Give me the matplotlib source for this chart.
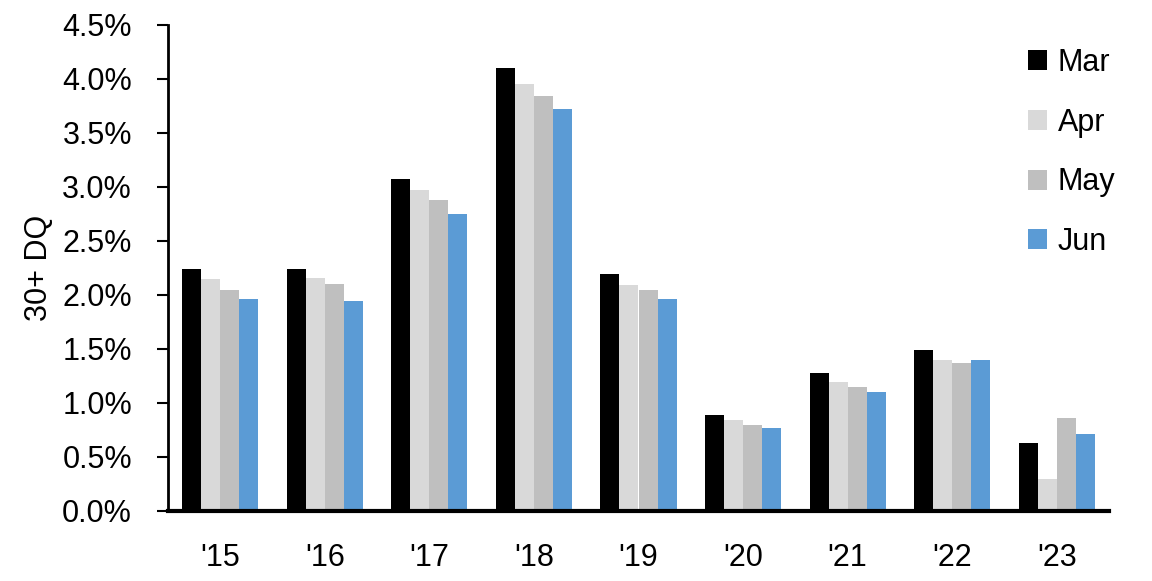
import numpy as np
import matplotlib.pyplot as plt

plt.rcParams['font.family'] = ['Liberation Sans', 'DejaVu Sans']

# vintage years and monthly 30+ DQ rates (%)
years = ["'15", "'16", "'17", "'18", "'19", "'20", "'21", "'22", "'23"]
months = ['Mar', 'Apr', 'May', 'Jun']
mar = [2.24, 2.24, 3.07, 4.10, 2.19, 0.89, 1.28, 1.49, 0.63]
apr = [2.15, 2.155, 2.975, 3.95, 2.095, 0.84, 1.19, 1.40, 0.30]
may = [2.05, 2.10, 2.88, 3.84, 2.05, 0.80, 1.15, 1.37, 0.86]
jun = [1.96, 1.94, 2.75, 3.72, 1.96, 0.77, 1.10, 1.395, 0.71]
colors = ['#000000', '#D9D9D9', '#BFBFBF', '#5B9BD5']

fig = plt.figure(figsize=(11.52, 5.81), dpi=100)
ax = fig.add_axes([168 / 1152, 70 / 581, 941 / 1152, 486 / 581])

x = np.arange(len(years))
w = 0.182
for i, (vals, lab) in enumerate(zip([mar, apr, may, jun], months)):
    ax.bar(x + (i - 1.5) * w, vals, width=w, color=colors[i], label=lab)

ax.set_xlim(-0.5, len(years) - 0.5)
ax.set_ylim(0, 4.5)
ax.set_yticks(np.arange(0, 4.51, 0.5))
ax.set_yticklabels(['%.1f%%' % v for v in np.arange(0, 4.51, 0.5)])
ax.set_xticks(x)
ax.set_xticklabels(years)
ax.tick_params(axis='y', labelsize=22, length=8, width=1.5, pad=18)
ax.tick_params(axis='x', labelsize=22, length=0, pad=23)
ax.set_ylabel('30+ DQ', fontsize=22, labelpad=6)

for s in ['top', 'right']:
    ax.spines[s].set_visible(False)
ax.spines['left'].set_linewidth(2)
ax.spines['bottom'].set_linewidth(3)

ax.legend(loc='upper left', bbox_to_anchor=(1028 / 1152, 1 - 48 / 581),
          bbox_transform=fig.transFigure, frameon=False, fontsize=22,
          handlelength=0.63, handleheight=0.63, handletextpad=0.35,
          labelspacing=0.97, borderpad=0, borderaxespad=0)

fig.savefig('out.png', dpi=100)
